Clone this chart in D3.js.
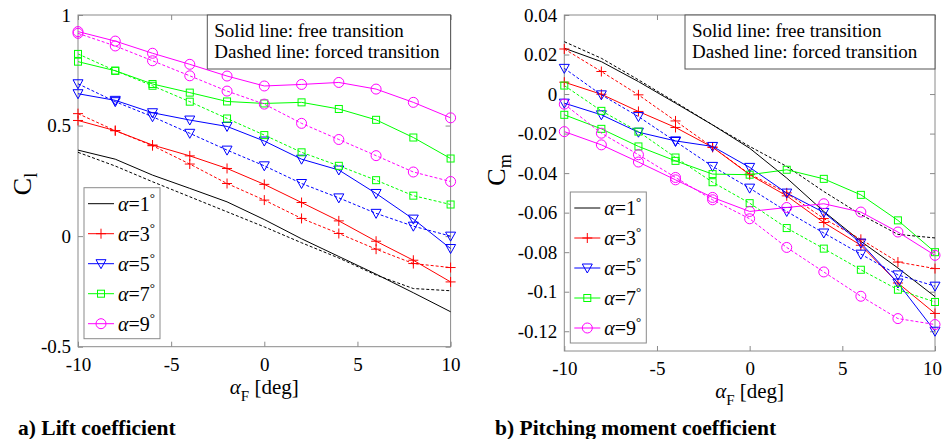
<!DOCTYPE html>
<html>
<head>
<meta charset="utf-8">
<script src="https://cdn.jsdelivr.net/npm/d3@7"></script>
</head>
<body style="margin:0;background:#fff;font-family:'Liberation Serif'">
<svg id="chart" width="943" height="439" font-family="Liberation Serif"></svg>
<script>
// Data
var alphaF = [-10, -8, -6, -4, -2, 0, 2, 4, 6, 8, 10];
var aoaLabels = ["1", "3", "5", "7", "9"];
var xTicks = [-10, -5, 0, 5, 10];

// lift coefficient, solid = free transition, dashed = forced transition
var clFree1 = [0.389, 0.348, 0.276, 0.216, 0.155, 0.075, -0.012, -0.092, -0.172, -0.256, -0.342];
var clForced1 = [0.379, 0.317, 0.246, 0.178, 0.110, 0.042, -0.030, -0.099, -0.176, -0.237, -0.247];
var clFree3 = [0.523, 0.477, 0.412, 0.363, 0.306, 0.234, 0.152, 0.069, -0.023, -0.109, -0.207];
var clForced3 = [0.554, 0.477, 0.409, 0.326, 0.238, 0.163, 0.080, 0.012, -0.059, -0.124, -0.142];
var clFree5 = [0.644, 0.614, 0.558, 0.525, 0.496, 0.430, 0.348, 0.299, 0.193, 0.077, -0.056];
var clForced5 = [0.689, 0.608, 0.540, 0.465, 0.389, 0.318, 0.238, 0.173, 0.103, 0.045, 0.000];
var clFree7 = [0.789, 0.748, 0.688, 0.649, 0.609, 0.600, 0.605, 0.575, 0.526, 0.446, 0.351];
var clForced7 = [0.824, 0.748, 0.680, 0.608, 0.532, 0.457, 0.379, 0.318, 0.253, 0.183, 0.143];
var clFree9 = [0.925, 0.882, 0.827, 0.777, 0.724, 0.679, 0.686, 0.695, 0.665, 0.605, 0.535];
var clForced9 = [0.917, 0.860, 0.793, 0.725, 0.656, 0.597, 0.510, 0.437, 0.364, 0.290, 0.247];
var clTicks = [-0.5, 0, 0.5, 1];

// pitching moment coefficient
var cmFree1 = [0.0232, 0.0164, 0.0063, -0.0046, -0.0156, -0.0274, -0.0425, -0.0594, -0.0745, -0.0880, -0.1025];
var cmForced1 = [0.0265, 0.0181, 0.0072, -0.0041, -0.0156, -0.0265, -0.0366, -0.0493, -0.0610, -0.0710, -0.0728];
var cmFree3 = [0.0060, -0.0001, -0.0088, -0.0169, -0.0269, -0.0408, -0.0515, -0.0650, -0.0765, -0.0956, -0.1110];
var cmForced3 = [0.0228, 0.0114, -0.0004, -0.0136, -0.0269, -0.0405, -0.0500, -0.0630, -0.0735, -0.0850, -0.0883];
var cmFree5 = [-0.0046, -0.0105, -0.0193, -0.0237, -0.0265, -0.0371, -0.0501, -0.0599, -0.0754, -0.0956, -0.1200];
var cmForced5 = [0.0130, -0.0004, -0.0114, -0.0240, -0.0366, -0.0476, -0.0594, -0.0703, -0.0810, -0.0915, -0.0972];
var cmFree7 = [-0.0105, -0.0176, -0.0265, -0.0338, -0.0405, -0.0408, -0.0383, -0.0429, -0.0510, -0.0639, -0.0800];
var cmForced7 = [0.0043, -0.0085, -0.0190, -0.0321, -0.0446, -0.0552, -0.0678, -0.0782, -0.0889, -0.0990, -0.1052];
var cmFree9 = [-0.0190, -0.0257, -0.0344, -0.0434, -0.0523, -0.0594, -0.0574, -0.0555, -0.0597, -0.0698, -0.0816];
var cmForced9 = [-0.0051, -0.0198, -0.0307, -0.0422, -0.0535, -0.0631, -0.0776, -0.0900, -0.1023, -0.1136, -0.1166];
var cmTicks = [-0.12, -0.1, -0.08, -0.06, -0.04, -0.02, 0, 0.02, 0.04];

// Styles
var lineColors = ["#000000", "#ff0000", "#0000ff", "#00ff00", "#ff00ff"];
var markerKinds = ["none", "plus", "tri", "square", "circle"];
var frameColor = "#8a8a8a";
var serif = "Liberation Serif";

var svg = d3.select("#chart");

function drawMarker(g, kind, cx, cy, color) {
    if (kind === "plus") {
        g.append("path").attr("d", "M" + (cx - 5) + "," + cy + "H" + (cx + 5) + "M" + cx + "," + (cy - 5) + "V" + (cy + 5))
            .attr("stroke", color).attr("fill", "none");
    } else if (kind === "tri") {
        g.append("path").attr("d", "M" + (cx - 5) + "," + (cy - 4) + "L" + (cx + 5) + "," + (cy - 4) + "L" + cx + "," + (cy + 5) + "Z")
            .attr("stroke", color).attr("fill", "none");
    } else if (kind === "square") {
        g.append("rect").attr("x", cx - 3.5).attr("y", cy - 3.5).attr("width", 7).attr("height", 7)
            .attr("stroke", color).attr("fill", "none");
    } else if (kind === "circle") {
        g.append("circle").attr("cx", cx).attr("cy", cy).attr("r", 5)
            .attr("stroke", color).attr("fill", "none");
    }
}

function tickLabel(d) {
    return String(+d.toFixed(2));   // plain hyphen minus like the original
}

function drawPanel(p) {
    var x = d3.scaleLinear().domain([-10, 10]).range([p.left, p.right]);
    var y = d3.scaleLinear().domain(p.yDomain).range([p.bottom, p.top]);
    var g = svg.append("g").attr("font-family", serif);

    // axes (ticks point inward, box drawn separately)
    var xb = g.append("g").attr("transform", "translate(0," + p.bottom + ")")
        .call(d3.axisBottom(x).tickValues(xTicks).tickSize(-5).tickPadding(11).tickFormat(tickLabel));
    g.append("g").attr("transform", "translate(0," + p.top + ")")
        .call(d3.axisTop(x).tickValues(xTicks).tickSize(-5).tickFormat(""));
    g.append("g").attr("transform", "translate(" + p.left + ",0)")
        .call(d3.axisLeft(y).tickValues(p.yTicks).tickSize(-5).tickPadding(7).tickFormat(tickLabel));
    g.append("g").attr("transform", "translate(" + p.right + ",0)")
        .call(d3.axisRight(y).tickValues(p.yTicks).tickSize(-5).tickFormat(""));
    g.selectAll(".domain").remove();
    g.selectAll(".tick line").attr("stroke", frameColor);
    g.selectAll(".tick text").attr("fill", "#000").attr("font-family", serif).attr("font-size", 19);
    // keep the last x label inside the page
    if (p.lastLabelShift) {
        xb.selectAll(".tick text").filter(function(d) { return d === 10; }).attr("dx", p.lastLabelShift);
    }

    g.append("rect").attr("x", p.left).attr("y", p.top)
        .attr("width", p.right - p.left).attr("height", p.bottom - p.top)
        .attr("fill", "none").attr("stroke", frameColor);

    var line = d3.line().x(function(d, i) { return x(alphaF[i]); }).y(function(d) { return y(d); });

    p.series.forEach(function(s, k) {
        var color = lineColors[k];
        g.append("path").datum(s[1]).attr("d", line)
            .attr("fill", "none").attr("stroke", color).attr("stroke-width", 1)
            .attr("stroke-dasharray", "3,2");
        g.append("path").datum(s[0]).attr("d", line)
            .attr("fill", "none").attr("stroke", color).attr("stroke-width", 1);
        [s[0], s[1]].forEach(function(vals) {
            vals.forEach(function(v, i) {
                drawMarker(g, markerKinds[k], x(alphaF[i]), y(v), color);
            });
        });
    });

    // info box
    var ib = g.append("g");
    ib.append("rect").attr("x", p.infoX).attr("y", p.top)
        .attr("width", p.right - p.infoX).attr("height", 54)
        .attr("fill", "#fff").attr("stroke", "#555");
    ib.append("text").attr("x", p.infoX + 7).attr("y", p.top + 22).attr("font-size", 19)
        .attr("font-family", serif).text("Solid line: free transition");
    ib.append("text").attr("x", p.infoX + 7).attr("y", p.top + 43).attr("font-size", 19)
        .attr("font-family", serif).text("Dashed line: forced transition");

    // legend
    var lg = g.append("g");
    var lx = p.left + 6, ly = p.bottom - 8 - 151;
    lg.append("rect").attr("x", lx).attr("y", ly).attr("width", 76).attr("height", 151)
        .attr("fill", "#fff").attr("stroke", frameColor);
    aoaLabels.forEach(function(a, k) {
        var yy = ly + 16 + k * 30;
        lg.append("line").attr("x1", lx + 4).attr("x2", lx + 30).attr("y1", yy).attr("y2", yy)
            .attr("stroke", lineColors[k]);
        drawMarker(lg, markerKinds[k], lx + 17, yy, lineColors[k]);
        var t = lg.append("text").attr("x", lx + 34).attr("y", yy + 7).attr("font-size", 20).attr("font-family", serif);
        t.append("tspan").attr("font-style", "italic").text("\u03b1");
        t.append("tspan").text("=" + a);
        t.append("tspan").attr("font-size", 13).attr("dy", -9).text("\u00b0");
    });

    // axis labels
    var xl = g.append("text").attr("x", x(0)).attr("y", p.bottom + 47).attr("text-anchor", "middle")
        .attr("font-family", serif).attr("font-size", 21);
    xl.append("tspan").attr("font-style", "italic").text("\u03b1");
    xl.append("tspan").attr("font-size", 15).attr("dy", 7).text("F");
    xl.append("tspan").attr("dy", -7).text(" [deg]");

    var yl = g.append("text").attr("transform", "translate(" + p.yLabelX + "," + p.yLabelY + ") rotate(-90)")
        .attr("text-anchor", "middle").attr("font-family", serif).attr("font-size", 26);
    yl.append("tspan").text("C");
    yl.append("tspan").attr("font-size", 18).attr("dy", 6).text(p.ySub);

    g.append("text").attr("x", p.titleX).attr("y", 435).attr("font-family", serif)
        .attr("font-size", 21.5).attr("font-weight", "bold").text(p.title);
}

drawPanel({
    left: 78, right: 450.6, top: 15, bottom: 346.7,
    yDomain: [-0.5, 1], yTicks: clTicks,
    series: [[clFree1, clForced1], [clFree3, clForced3], [clFree5, clForced5], [clFree7, clForced7], [clFree9, clForced9]],
    infoX: 207.3, yLabelX: 31, yLabelY: 184, ySub: "l",
    titleX: 18, title: "a) Lift coefficient"
});

drawPanel({
    left: 564.3, right: 935, top: 15, bottom: 351,
    yDomain: [-0.13, 0.04], yTicks: cmTicks,
    series: [[cmFree1, cmForced1], [cmFree3, cmForced3], [cmFree5, cmForced5], [cmFree7, cmForced7], [cmFree9, cmForced9]],
    infoX: 685, yLabelX: 505, yLabelY: 170, ySub: "m",
    titleX: 495, title: "b) Pitching moment coefficient", lastLabelShift: -3
});
</script>
</body>
</html>
